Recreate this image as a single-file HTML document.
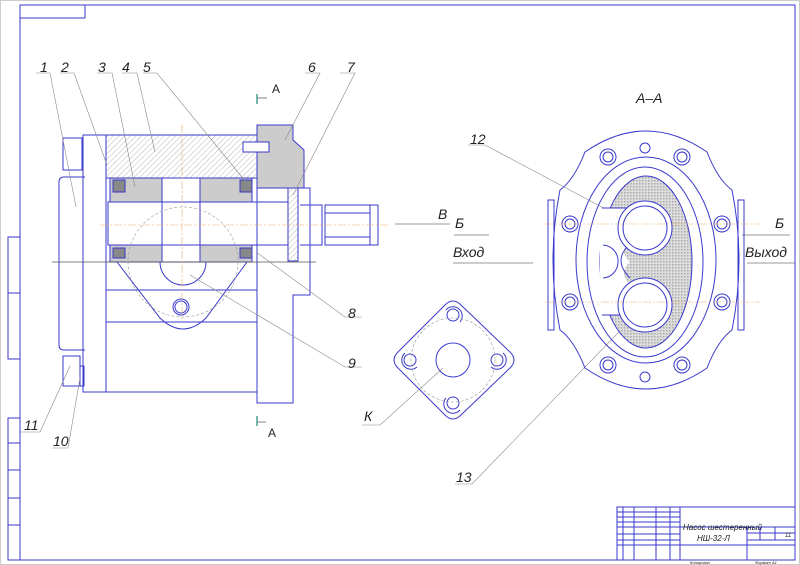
<!DOCTYPE html>
<html><head><meta charset="utf-8"><style>
html,body{margin:0;padding:0;background:#fff;width:800px;height:565px;overflow:hidden}
svg{display:block}
text{font-family:"Liberation Sans",sans-serif;font-style:italic;fill:#222}
</style></head><body>
<svg width="800" height="565" viewBox="0 0 800 565" xmlns="http://www.w3.org/2000/svg">
<defs>
<pattern id="h" width="4" height="4" patternUnits="userSpaceOnUse" patternTransform="rotate(45)"><line x1="0" y1="0" x2="0" y2="4" stroke="#999" stroke-width="0.7"/></pattern>
<pattern id="x" width="3" height="3" patternUnits="userSpaceOnUse"><rect width="3" height="3" fill="#ddd"/><rect width="1.5" height="1.5" fill="#aaa"/></pattern>
</defs>
<rect x="0.5" y="0.5" width="799" height="564" fill="none" stroke="#ccc"/>
<g fill="none" stroke="#3a3acc" stroke-width="1">
<rect x="20" y="5" width="775" height="555"/>
<rect x="20" y="5" width="65" height="13"/>
<rect x="8" y="237" width="12" height="122"/><line x1="8" y1="293" x2="20" y2="293"/>
<rect x="8" y="418" width="12" height="142"/>
<line x1="8" y1="443" x2="20" y2="443"/><line x1="8" y1="470" x2="20" y2="470"/><line x1="8" y1="498" x2="20" y2="498"/><line x1="8" y1="525" x2="20" y2="525"/>
<rect x="617" y="507" width="178" height="53"/>
<line x1="617" y1="512" x2="680" y2="512"/><line x1="617" y1="517" x2="680" y2="517"/><line x1="617" y1="522" x2="680" y2="522"/><line x1="617" y1="527" x2="795" y2="527"/>
<line x1="617" y1="534" x2="680" y2="534"/><line x1="617" y1="540" x2="680" y2="540"/><line x1="617" y1="545" x2="680" y2="545"/>
<line x1="623" y1="507" x2="623" y2="560"/><line x1="634" y1="507" x2="634" y2="560"/><line x1="656" y1="507" x2="656" y2="560"/><line x1="670" y1="507" x2="670" y2="560"/><line x1="680" y1="507" x2="680" y2="560"/>
<line x1="680" y1="545" x2="795" y2="545"/><line x1="747" y1="527" x2="747" y2="560"/>
<line x1="747" y1="533" x2="795" y2="533"/><line x1="747" y1="540" x2="795" y2="540"/>
<line x1="760" y1="527" x2="760" y2="540"/><line x1="775" y1="527" x2="775" y2="540"/>
</g>
<text x="683" y="530" font-size="8">Насос шестеренный</text>
<text x="697" y="541" font-size="8">НШ-32-Л</text>
<text x="785" y="537" font-size="6">11</text>
<text x="690" y="564" font-size="4">Копировал</text><text x="755" y="564" font-size="4">Формат А1</text>

<g stroke="#3a3acc" stroke-width="1" fill="none">
<rect x="106" y="135" width="151" height="43" fill="url(#h)"/>
<rect x="63" y="138" width="19" height="32"/>
<path d="M85 177 H64 Q59 177 59 182 V345 Q59 350 64 350 H85"/>
<rect x="83" y="135" width="23" height="257"/>
<rect x="106" y="135" width="151" height="257"/>
<rect x="110" y="178" width="52" height="24" fill="#ccc"/>
<rect x="200" y="178" width="52" height="24" fill="#ccc"/>
<rect x="110" y="245" width="52" height="17" fill="#ccc"/>
<rect x="200" y="245" width="52" height="17" fill="#ccc"/>
<rect x="113" y="180" width="12" height="12" fill="#888"/><rect x="240" y="180" width="12" height="12" fill="#888"/>
<rect x="113" y="248" width="12" height="10" fill="#888"/><rect x="240" y="248" width="12" height="10" fill="#888"/>
<rect x="162" y="178" width="38" height="84" fill="#fff"/>
<rect x="108" y="202" width="180" height="43"/>
<path d="M257 125 H293 V140 L304 150 V188 H257 Z" fill="#ccc"/>
<rect x="243" y="142" width="26" height="10" fill="#fff"/>
<path d="M257 188 H310 V295 H293 V403 H257 Z"/>
<rect x="288" y="188" width="10" height="73" fill="url(#h)"/>
<path d="M300 205 H322 V245 H300"/><rect x="325" y="205" width="45" height="40"/><rect x="370" y="205" width="8" height="40"/>
<line x1="325" y1="213" x2="370" y2="213"/><line x1="325" y1="237" x2="370" y2="237"/>
<line x1="106" y1="290" x2="257" y2="290"/><line x1="106" y1="322" x2="257" y2="322"/>
<path d="M117 262 L160 318 Q183 340 206 318 L247 262"/>
<path d="M160 262 A23 23 0 0 0 206 262"/>
<circle cx="181" cy="307" r="8"/><circle cx="181" cy="307" r="6"/>
<rect x="63" y="356" width="17" height="30"/><rect x="80" y="366" width="4" height="20"/>
</g>
<line x1="52" y1="262" x2="316" y2="262" stroke="#555" stroke-width="0.8"/>
<circle cx="183" cy="262" r="55" fill="none" stroke="#999" stroke-width="0.6" stroke-dasharray="3 2"/>
<line x1="100" y1="225" x2="390" y2="225" stroke="#e9a96a" stroke-width="0.6" stroke-dasharray="8 2 2 2"/>
<line x1="182" y1="125" x2="182" y2="320" stroke="#e9a96a" stroke-width="0.6" stroke-dasharray="8 2 2 2"/>
<g stroke="#1a8a7a" stroke-width="1.2"><line x1="257" y1="94" x2="257" y2="104"/><line x1="257" y1="416" x2="257" y2="426"/></g>
<g stroke="#333" stroke-width="0.6"><line x1="257" y1="98" x2="267" y2="98"/><line x1="257" y1="422" x2="266" y2="422"/></g>
<text x="272" y="93" font-size="12" style="font-style:normal">A</text>
<text x="268" y="437" font-size="12" style="font-style:normal">A</text>
<g stroke="#888" stroke-width="0.6" fill="none">
<path d="M36 73 H50 L76 207"/><path d="M60 73 H74 L107 165"/><path d="M97 73 H112 L135 187"/>
<path d="M122 73 H137 L155 152"/><path d="M143 73 H157 L246 182"/>
<path d="M305 73 H320 L285 140"/><path d="M340 73 H355 L293 195"/>
<path d="M362 317 H345 L256 252"/><path d="M362 367 H345 L190 275"/>
<path d="M20 432 H40 L70 366"/><path d="M52 448 H68 L80 378"/>
<path d="M362 425 H380 L443 368"/>
<path d="M468 145 H485 L645 230"/><path d="M455 484 H472 L645 305"/>
</g>
<g font-size="14"><text x="40" y="72">1</text><text x="61" y="72">2</text><text x="98" y="72">3</text><text x="122" y="72">4</text><text x="143" y="72">5</text>
<text x="308" y="72">6</text><text x="347" y="72">7</text><text x="348" y="318">8</text><text x="348" y="368">9</text>
<text x="24" y="430">11</text><text x="53" y="446">10</text><text x="364" y="421">К</text>
<text x="470" y="144">12</text><text x="456" y="482">13</text>
<text x="636" y="103">А–А</text>
<text x="438" y="219">В</text><text x="455" y="228">Б</text><text x="453" y="257">Вход</text>
<text x="775" y="228">Б</text><text x="745" y="257">Выход</text></g>
<g stroke="#333" stroke-width="0.6"><line x1="395" y1="224" x2="450" y2="224"/><line x1="454" y1="235" x2="489" y2="235"/><line x1="453" y1="263" x2="533" y2="263"/>
<line x1="742" y1="235" x2="790" y2="235"/><line x1="747" y1="263" x2="795" y2="263"/></g>
<g stroke="#3a3acc" stroke-width="1" fill="none">
<path d="M398 352 L445 305 Q453 297 461 305 L510 352 Q518 360 510 368 L461 415 Q453 423 445 415 L398 368 Q390 360 398 352 Z"/>
<circle cx="453" cy="360" r="17"/>
<circle cx="453" cy="315" r="6"/><circle cx="410" cy="360" r="6"/><circle cx="497" cy="360" r="6"/><circle cx="453" cy="403" r="6"/>
<path d="M446 310 A9 9 0 1 1 460 322"/><path d="M405 353 A9 9 0 1 0 417 367"/><path d="M503 353 A9 9 0 1 1 491 367"/><path d="M446 398 A9 9 0 1 0 460 410"/>
</g>
<circle cx="453" cy="360" r="42" fill="none" stroke="#999" stroke-width="0.6" stroke-dasharray="3 2"/>
<g stroke="#3a3acc" stroke-width="1" fill="none">
<path d="M585 152 Q646 110 707 152 Q718 180 732 190 Q746 260 732 330 Q718 340 707 368 Q646 410 585 368 Q574 340 560 330 Q546 260 560 190 Q574 180 585 152 Z"/>
<rect x="548" y="200" width="6" height="130"/><rect x="738" y="200" width="6" height="130"/>
<ellipse cx="646" cy="260" rx="70" ry="103"/>
<ellipse cx="645" cy="262" rx="58" ry="95"/>
<ellipse cx="646" cy="262" rx="46" ry="86" fill="url(#x)"/>
<path d="M600 208 H630 V242 Q618 250 630 262 Q618 272 630 285 V315 H600 Z" fill="#fff" stroke="none"/>
<path d="M602 208 H628 M602 315 H628"/>
<path d="M630 244 Q612 260 630 278" />
<path d="M603 245 A16 16 0 0 1 618 262 A16 16 0 0 1 603 278"/>
<circle cx="645" cy="228" r="27" fill="#fff"/><circle cx="645" cy="228" r="22"/>
<circle cx="645" cy="305" r="27" fill="#fff"/><circle cx="645" cy="305" r="22"/>
</g>
<g stroke="#3a3acc" stroke-width="1" fill="none">
<circle cx="608" cy="157" r="5"/><circle cx="645" cy="148" r="5"/><circle cx="682" cy="157" r="5"/>
<circle cx="570" cy="224" r="5"/><circle cx="722" cy="224" r="5"/><circle cx="570" cy="302" r="5"/><circle cx="722" cy="302" r="5"/>
<circle cx="608" cy="365" r="5"/><circle cx="645" cy="377" r="5"/><circle cx="682" cy="365" r="5"/>
<circle cx="608" cy="157" r="8"/><circle cx="682" cy="157" r="8"/><circle cx="570" cy="224" r="8"/><circle cx="722" cy="224" r="8"/><circle cx="570" cy="302" r="8"/><circle cx="722" cy="302" r="8"/><circle cx="608" cy="365" r="8"/><circle cx="682" cy="365" r="8"/>
</g>
<g stroke="#e9a96a" stroke-width="0.6" stroke-dasharray="8 2 2 2"><line x1="545" y1="224" x2="760" y2="224"/><line x1="545" y1="302" x2="760" y2="302"/></g>
</svg>
</body></html>
